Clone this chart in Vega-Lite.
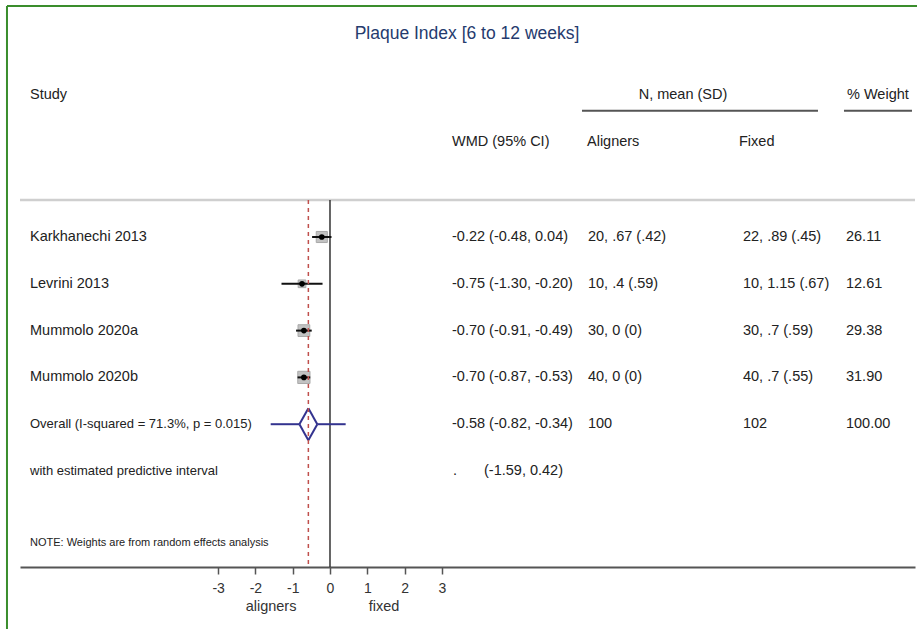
{
  "$schema": "https://vega.github.io/schema/vega-lite/v6.json",
  "width": 895,
  "height": 507,
  "autosize": {"type": "none"},
  "padding": {"left": 20, "top": 60, "right": 2, "bottom": 62},
  "background": "white",
  "config": {
    "view": {"stroke": null},
    "axisY": {"disable": true},
    "axis": {"grid": false},
    "text": {"font": "Liberation Sans", "color": "#222222", "align": "left", "baseline": "middle", "fontSize": 14.5}
  },
  "datasets": {
    "studies": [
      {"study": "Karkhanechi 2013", "row": 1, "es": -0.22, "lo": -0.48, "hi": 0.04, "ci": "-0.22 (-0.48, 0.04)", "al": "20, .67 (.42)", "fx": "22, .89 (.45)", "w": 26.11, "wt": "26.11"},
      {"study": "Levrini 2013", "row": 2, "es": -0.75, "lo": -1.30, "hi": -0.20, "ci": "-0.75 (-1.30, -0.20)", "al": "10, .4 (.59)", "fx": "10, 1.15 (.67)", "w": 12.61, "wt": "12.61"},
      {"study": "Mummolo 2020a", "row": 3, "es": -0.70, "lo": -0.91, "hi": -0.49, "ci": "-0.70 (-0.91, -0.49)", "al": "30, 0 (0)", "fx": "30, .7 (.59)", "w": 29.38, "wt": "29.38"},
      {"study": "Mummolo 2020b", "row": 4, "es": -0.70, "lo": -0.87, "hi": -0.53, "ci": "-0.70 (-0.87, -0.53)", "al": "40, 0 (0)", "fx": "40, .7 (.55)", "w": 31.90, "wt": "31.90"}
    ],
    "overall": [
      {"label": "Overall  (I-squared = 71.3%, p = 0.015)", "row": 5, "es": -0.58, "lo": -0.82, "hi": -0.34, "pi_lo": -1.59, "pi_hi": 0.42, "ci": "-0.58 (-0.82, -0.34)", "al": "100", "fx": "102", "wt": "100.00"}
    ],
    "pred": [
      {"label": "with estimated predictive interval", "row": 6, "dot": ".", "pi": "(-1.59, 0.42)"}
    ],
    "one": [{}]
  },
  "layer": [
    {
      "data": {"name": "one"},
      "mark": {"type": "rule", "color": "#3a8d2c", "strokeWidth": 2},
      "encoding": {
        "x": {"datum": -8.66, "type": "quantitative", "scale": {"domain": [-8.311, 15.684], "nice": false, "zero": false},
          "axis": {"values": [-3, -2, -1, 0, 1, 2, 3], "title": null, "labelExpr": "datum.value + ''", "domainColor": "#555555", "domainWidth": 2, "tickColor": "#555555", "tickWidth": 1.5, "tickSize": 7, "labelFont": "Liberation Sans", "labelFontSize": 14, "labelColor": "#333333", "labelPadding": 7, "labelFlush": false, "labelOverlap": false, "grid": false}},
        "y": {"datum": -3.936, "type": "quantitative", "scale": {"domain": [-2.782, 8.051], "reverse": true, "nice": false, "zero": false}},
        "y2": {"datum": 9.5}
      }
    },
    {
      "data": {"name": "one"},
      "mark": {"type": "rule", "color": "#3a8d2c", "strokeWidth": 2},
      "encoding": {"x": {"datum": -8.66}, "x2": {"datum": 16.5}, "y": {"datum": -3.936}}
    },
    {
      "data": {"name": "one"},
      "mark": {"type": "text", "text": "Plaque Index [6 to 12 weeks]", "align": "center", "fontSize": 17.5, "color": "#253b6e"},
      "encoding": {"x": {"datum": 3.673}, "y": {"datum": -3.338}}
    },
    {
      "data": {"name": "one"},
      "mark": {"type": "rule", "color": "#cfcfcf", "strokeWidth": 2.5},
      "encoding": {"y": {"datum": 0.209}}
    },
    {
      "data": {"name": "one"},
      "mark": {"type": "rule", "color": "#333333", "strokeWidth": 1.5},
      "encoding": {"x": {"datum": 0}, "y": {"datum": 0.209}, "y2": {"datum": 8.051}}
    },
    {
      "data": {"name": "studies"},
      "mark": {"type": "square", "filled": true, "color": "#c2c2c2", "stroke": "#a9a9a9", "strokeWidth": 1, "opacity": 1},
      "encoding": {
        "x": {"field": "es", "type": "quantitative"},
        "y": {"field": "row", "type": "quantitative"},
        "size": {"field": "w", "type": "quantitative", "scale": {"domain": [0, 31.9], "range": [0, 150], "zero": true}, "legend": null}
      }
    },
    {
      "data": {"name": "studies"},
      "mark": {"type": "rule", "color": "#111111", "strokeWidth": 2},
      "encoding": {"x": {"field": "lo", "type": "quantitative"}, "x2": {"field": "hi"}, "y": {"field": "row", "type": "quantitative"}}
    },
    {
      "data": {"name": "studies"},
      "mark": {"type": "point", "filled": true, "shape": "circle", "size": 32, "color": "#000000", "opacity": 1},
      "encoding": {"x": {"field": "es", "type": "quantitative"}, "y": {"field": "row", "type": "quantitative"}}
    },
    {
      "data": {"name": "overall"},
      "mark": {"type": "rule", "color": "#33338f", "strokeWidth": 2},
      "encoding": {"x": {"field": "pi_lo", "type": "quantitative"}, "x2": {"field": "lo"}, "y": {"field": "row", "type": "quantitative"}}
    },
    {
      "data": {"name": "overall"},
      "mark": {"type": "rule", "color": "#33338f", "strokeWidth": 2},
      "encoding": {"x": {"field": "hi", "type": "quantitative"}, "x2": {"field": "pi_hi"}, "y": {"field": "row", "type": "quantitative"}}
    },
    {
      "data": {"name": "overall"},
      "mark": {"type": "rule", "color": "#33338f", "strokeWidth": 2, "y2Offset": -16},
      "encoding": {"x": {"field": "lo", "type": "quantitative"}, "x2": {"field": "es"}, "y": {"field": "row", "type": "quantitative"}, "y2": {"field": "row"}}
    },
    {
      "data": {"name": "overall"},
      "mark": {"type": "rule", "color": "#33338f", "strokeWidth": 2, "yOffset": -16},
      "encoding": {"x": {"field": "es", "type": "quantitative"}, "x2": {"field": "hi"}, "y": {"field": "row", "type": "quantitative"}, "y2": {"field": "row"}}
    },
    {
      "data": {"name": "overall"},
      "mark": {"type": "rule", "color": "#33338f", "strokeWidth": 2, "y2Offset": 16},
      "encoding": {"x": {"field": "lo", "type": "quantitative"}, "x2": {"field": "es"}, "y": {"field": "row", "type": "quantitative"}, "y2": {"field": "row"}}
    },
    {
      "data": {"name": "overall"},
      "mark": {"type": "rule", "color": "#33338f", "strokeWidth": 2, "yOffset": 16},
      "encoding": {"x": {"field": "es", "type": "quantitative"}, "x2": {"field": "hi"}, "y": {"field": "row", "type": "quantitative"}, "y2": {"field": "row"}}
    },
    {
      "data": {"name": "overall"},
      "mark": {"type": "rule", "color": "#c0504d", "strokeWidth": 1.5, "strokeDash": [4, 4]},
      "encoding": {"x": {"field": "es", "type": "quantitative"}, "y": {"datum": 0.209}, "y2": {"datum": 8.051}}
    },
    {
      "data": {"name": "studies"},
      "mark": {"type": "text"},
      "encoding": {"x": {"datum": -8.043}, "y": {"field": "row", "type": "quantitative"}, "text": {"field": "study"}}
    },
    {
      "data": {"name": "studies"},
      "mark": {"type": "text"},
      "encoding": {"x": {"datum": 3.271}, "y": {"field": "row", "type": "quantitative"}, "text": {"field": "ci"}}
    },
    {
      "data": {"name": "studies"},
      "mark": {"type": "text"},
      "encoding": {"x": {"datum": 6.917}, "y": {"field": "row", "type": "quantitative"}, "text": {"field": "al"}}
    },
    {
      "data": {"name": "studies"},
      "mark": {"type": "text"},
      "encoding": {"x": {"datum": 11.072}, "y": {"field": "row", "type": "quantitative"}, "text": {"field": "fx"}}
    },
    {
      "data": {"name": "studies"},
      "mark": {"type": "text"},
      "encoding": {"x": {"datum": 13.834}, "y": {"field": "row", "type": "quantitative"}, "text": {"field": "wt"}}
    },
    {
      "data": {"name": "overall"},
      "mark": {"type": "text", "fontSize": 13},
      "encoding": {"x": {"datum": -8.043}, "y": {"field": "row", "type": "quantitative"}, "text": {"field": "label"}}
    },
    {
      "data": {"name": "overall"},
      "mark": {"type": "text"},
      "encoding": {"x": {"datum": 3.271}, "y": {"field": "row", "type": "quantitative"}, "text": {"field": "ci"}}
    },
    {
      "data": {"name": "overall"},
      "mark": {"type": "text"},
      "encoding": {"x": {"datum": 6.917}, "y": {"field": "row", "type": "quantitative"}, "text": {"field": "al"}}
    },
    {
      "data": {"name": "overall"},
      "mark": {"type": "text"},
      "encoding": {"x": {"datum": 11.072}, "y": {"field": "row", "type": "quantitative"}, "text": {"field": "fx"}}
    },
    {
      "data": {"name": "overall"},
      "mark": {"type": "text"},
      "encoding": {"x": {"datum": 13.834}, "y": {"field": "row", "type": "quantitative"}, "text": {"field": "wt"}}
    },
    {
      "data": {"name": "pred"},
      "mark": {"type": "text", "fontSize": 13},
      "encoding": {"x": {"datum": -8.043}, "y": {"field": "row", "type": "quantitative"}, "text": {"field": "label"}}
    },
    {
      "data": {"name": "pred"},
      "mark": {"type": "text"},
      "encoding": {"x": {"datum": 3.298}, "y": {"field": "row", "type": "quantitative"}, "text": {"field": "dot"}}
    },
    {
      "data": {"name": "pred"},
      "mark": {"type": "text"},
      "encoding": {"x": {"datum": 4.129}, "y": {"field": "row", "type": "quantitative"}, "text": {"field": "pi"}}
    },
    {
      "data": {"name": "one"},
      "mark": {"type": "text", "text": "Study"},
      "encoding": {"x": {"datum": -8.043}, "y": {"datum": -2.034}}
    },
    {
      "data": {"name": "one"},
      "mark": {"type": "text", "text": "N, mean (SD)", "align": "center"},
      "encoding": {"x": {"datum": 9.464}, "y": {"datum": -2.034}}
    },
    {
      "data": {"name": "one"},
      "mark": {"type": "text", "text": "% Weight"},
      "encoding": {"x": {"datum": 13.861}, "y": {"datum": -2.034}}
    },
    {
      "data": {"name": "one"},
      "mark": {"type": "rule", "color": "#555555", "strokeWidth": 2},
      "encoding": {"x": {"datum": 6.756}, "x2": {"datum": 13.083}, "y": {"datum": -1.699}}
    },
    {
      "data": {"name": "one"},
      "mark": {"type": "rule", "color": "#555555", "strokeWidth": 2},
      "encoding": {"x": {"datum": 13.78}, "x2": {"datum": 15.603}, "y": {"datum": -1.699}}
    },
    {
      "data": {"name": "one"},
      "mark": {"type": "text", "text": "WMD (95% CI)"},
      "encoding": {"x": {"datum": 3.271}, "y": {"datum": -1.03}}
    },
    {
      "data": {"name": "one"},
      "mark": {"type": "text", "text": "Aligners"},
      "encoding": {"x": {"datum": 6.89}, "y": {"datum": -1.03}}
    },
    {
      "data": {"name": "one"},
      "mark": {"type": "text", "text": "Fixed"},
      "encoding": {"x": {"datum": 10.965}, "y": {"datum": -1.03}}
    },
    {
      "data": {"name": "one"},
      "mark": {"type": "text", "text": "NOTE: Weights are from random effects analysis", "fontSize": 11},
      "encoding": {"x": {"datum": -8.043}, "y": {"datum": 7.538}}
    },
    {
      "data": {"name": "one"},
      "mark": {"type": "text", "text": "aligners", "align": "center", "color": "#333333"},
      "encoding": {"x": {"datum": -1.58}, "y": {"datum": 8.906}}
    },
    {
      "data": {"name": "one"},
      "mark": {"type": "text", "text": "fixed", "align": "center", "color": "#333333"},
      "encoding": {"x": {"datum": 1.45}, "y": {"datum": 8.906}}
    }
  ]
}
